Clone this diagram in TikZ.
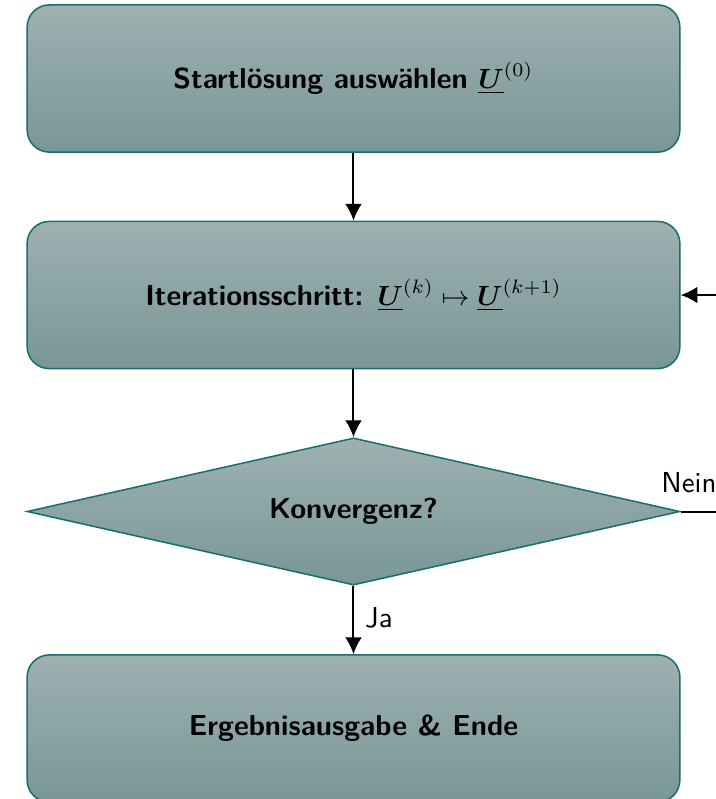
\documentclass[tikz,border=0pt]{standalone}
\usepackage{amsmath,bm}
\usetikzlibrary{shapes.geometric,arrows.meta}
\definecolor{boxtop}{RGB}{158,177,177}
\definecolor{boxbot}{RGB}{121,150,150}
\definecolor{boxline}{RGB}{25,110,110}
\tikzset{
  flowbox/.style={draw=boxline, line width=0.55pt, rounded corners=8pt,
    top color=boxtop, bottom color=boxbot, minimum width=235pt, minimum height=53pt,
    inner sep=0pt, font=\sffamily\bfseries\fontsize{10.4}{12.5}\selectfont},
  decbox/.style={draw=boxline, line width=0.55pt, diamond, shape aspect=4.44,
    top color=boxtop, bottom color=boxbot, minimum width=235pt, minimum height=53pt,
    inner sep=0pt, font=\sffamily\bfseries\fontsize{10.4}{12.5}\selectfont},
  arr/.style={line width=0.72pt, -{Latex[length=6pt,width=6pt]}},
  lbl/.style={font=\sffamily\fontsize{10.4}{12.5}\selectfont, inner sep=0pt}
}
\begin{document}
\begin{tikzpicture}[x=0.36pt,y=-0.36pt]
\clip (0,0) rectangle (716,799);
\node[flowbox] (b1) at (353.5,78.5) {Startlösung auswählen $\underline{\bm{U}}^{(0)}$};
\node[flowbox] (b2) at (353.5,295) {Iterationsschritt: $\underline{\bm{U}}^{(k)}\mapsto\underline{\bm{U}}^{(k+1)}$};
\node[decbox] (d) at (353.5,511.5) {Konvergenz?};
\node[flowbox] (b4) at (353.5,728.5) {Ergebnisausgabe \& Ende};
\coordinate (r) at (745,0);
\draw[arr] (b1.south) -- (b2.north);
\draw[arr] (b2.south) -- (d.north);
\draw[arr] (d.south) -- (b4.north);
\draw[arr] (d.east) -- (d.east -| r) |- (b2.east);
\node[lbl] (ja) at (379,618) {Ja};
\node[lbl] (nein) at (689,483) {Nein};
\end{tikzpicture}
\end{document}
